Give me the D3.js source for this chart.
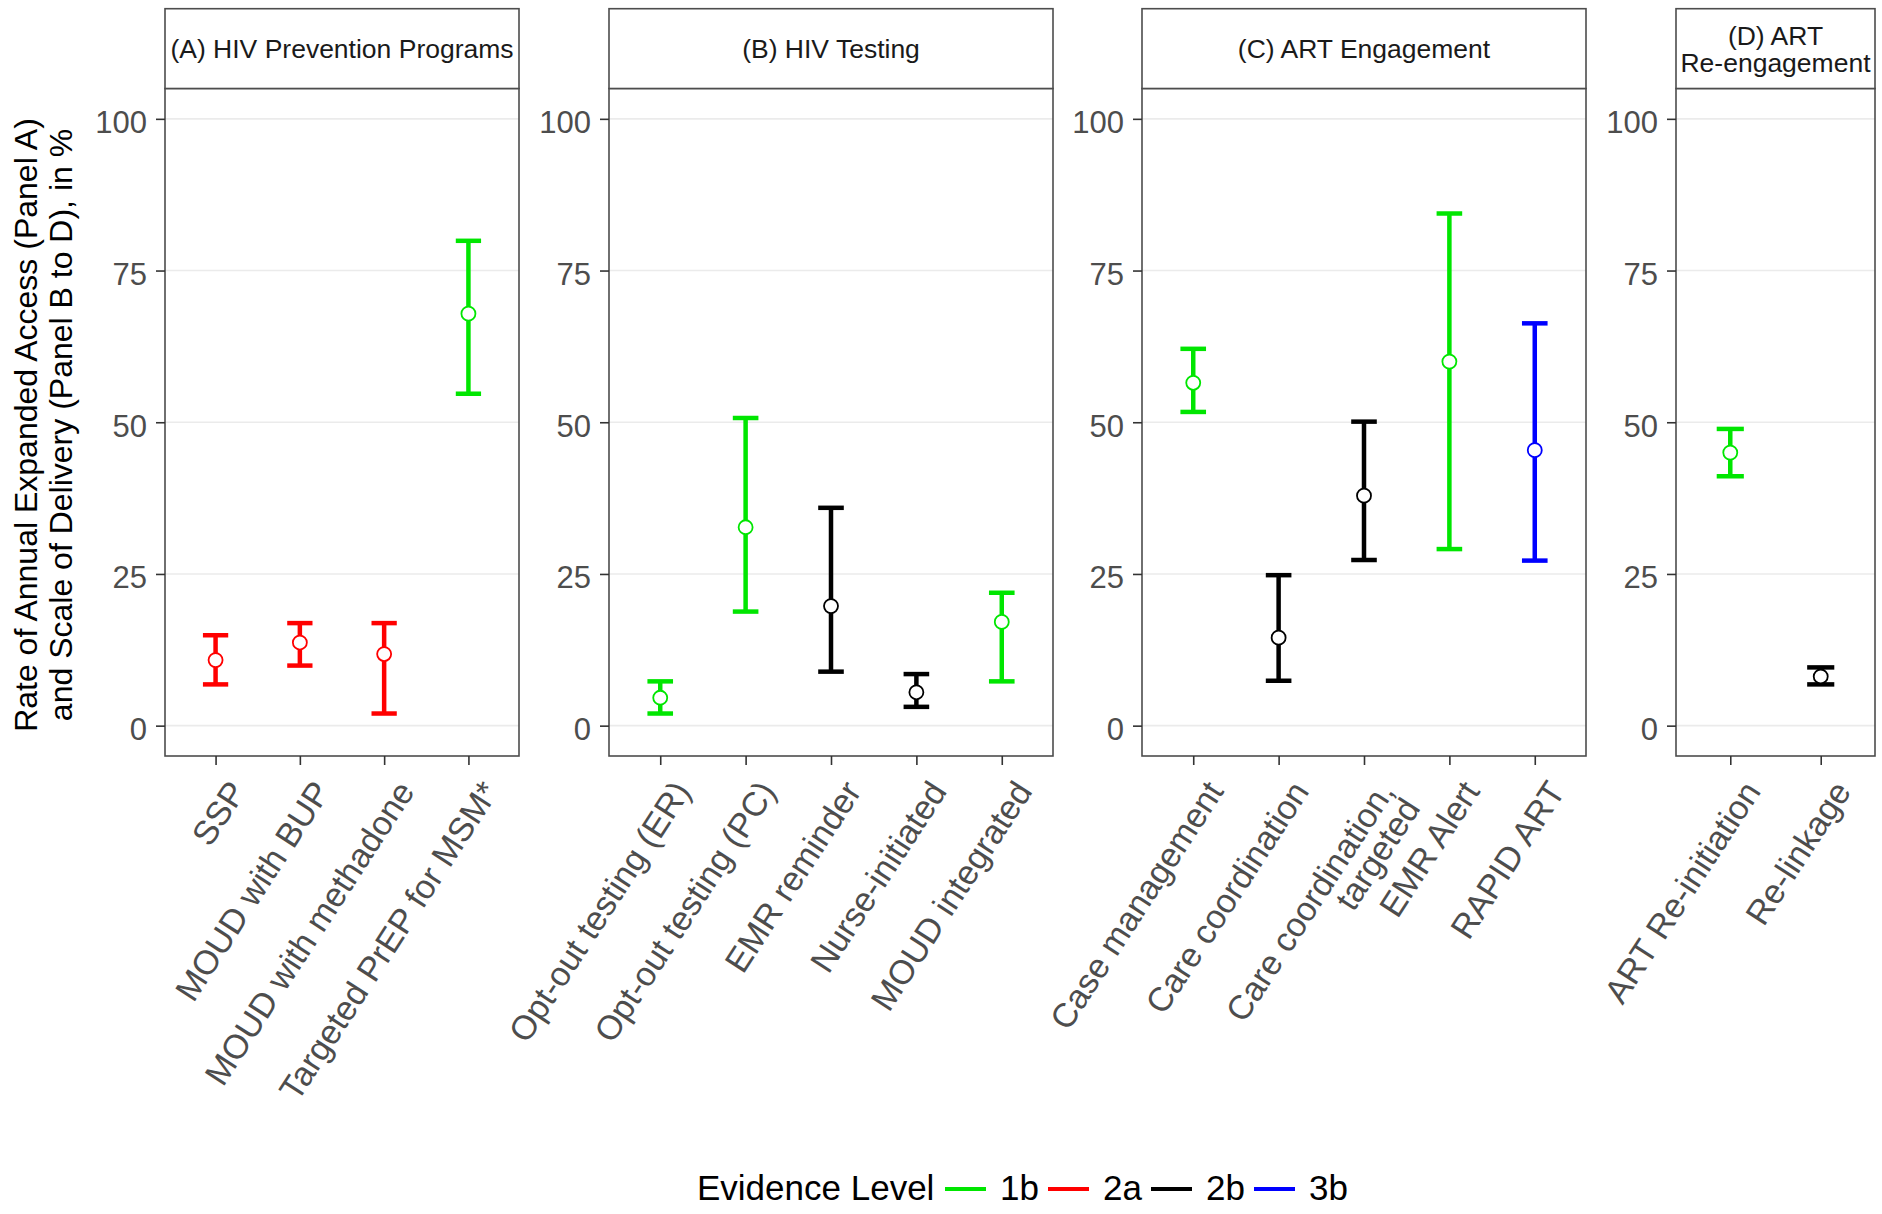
<!DOCTYPE html>
<html>
<head>
<meta charset="utf-8">
<script src="https://cdn.jsdelivr.net/npm/d3@7"></script>
<style>
  html, body { margin: 0; padding: 0; background: #ffffff; }
  svg { display: block; font-family: "Liberation Sans", Arial, Helvetica, sans-serif; }
</style>
</head>
<body>
<script>
// ---------------- DATA ----------------
const panelTitles = ["(A) HIV Prevention Programs", "(B) HIV Testing", "(C) ART Engagement", "(D) ART\nRe-engagement"];
const categories = [
  "SSP", "MOUD with BUP", "MOUD with methadone", "Targeted PrEP for MSM*",
  "Opt-out testing (ER)", "Opt-out testing (PC)", "EMR reminder", "Nurse-initiated", "MOUD integrated",
  "Case management", "Care coordination", "Care coordination,\ntargeted", "EMR Alert", "RAPID ART",
  "ART Re-initiation", "Re-linkage"
];
const categoryPanel = [0, 0, 0, 0, 1, 1, 1, 1, 1, 2, 2, 2, 2, 2, 3, 3];
const estimate = [10.8, 13.7, 11.8, 67.9, 4.6, 32.7, 19.7, 5.5, 17.1, 56.5, 14.5, 37.9, 60.0, 45.4, 45.0, 8.1];
const lower    = [6.8, 9.9, 2.0, 54.7, 2.0, 18.8, 8.9, 3.1, 7.3, 51.7, 7.4, 27.3, 29.1, 27.2, 41.1, 6.8];
const upper    = [14.9, 16.9, 16.9, 79.9, 7.3, 50.7, 35.9, 8.5, 21.9, 62.1, 24.8, 50.1, 84.4, 66.3, 48.9, 9.6];
const evidence = ["2a", "2a", "2a", "1b", "1b", "1b", "2b", "2b", "1b", "1b", "2b", "2b", "1b", "3b", "1b", "2b"];
const evidenceLevels = ["1b", "2a", "2b", "3b"];
const yTicks = [0, 25, 50, 75, 100];
const yTitleLines = ["Rate of Annual Expanded Access (Panel A)", "and Scale of Delivery (Panel B to D), in %"];
const legendTitle = "Evidence Level";

// ---------------- LAYOUT ----------------
const W = 1882, H = 1214;
const panelX = [[165, 519], [609, 1053], [1142, 1586], [1676, 1875]];
const stripTop = 8.7, panelTop = 88.5, panelBottom = 756;
const color = d3.scaleOrdinal().domain(evidenceLevels).range(["#00e600", "#ff0000", "#000000", "#0000ff"]);
const y = d3.scaleLinear().domain([-5, 105]).range([panelBottom, panelTop]);

const svg = d3.select("body").append("svg").attr("width", W).attr("height", H);
svg.append("rect").attr("width", W).attr("height", H).attr("fill", "#fff");

const rows = categories.map((c, i) => ({
  cat: c, panel: categoryPanel[i], est: estimate[i], lo: lower[i], hi: upper[i], ev: evidence[i]
}));

const xFont = 34, yFont = 31, xAngle = 57;

panelTitles.forEach((title, p) => {
  const [x0, x1] = panelX[p];
  const data = rows.filter(r => r.panel === p);
  const x = d3.scalePoint().domain(data.map(d => d.cat)).range([x0, x1]).padding(0.6);
  const step = x.step();
  const g = svg.append("g");

  // background + grid
  g.append("rect").attr("x", x0).attr("y", panelTop).attr("width", x1 - x0).attr("height", panelBottom - panelTop).attr("fill", "#fff");
  g.selectAll("line.grid").data(yTicks).join("line")
    .attr("class", "grid")
    .attr("x1", x0).attr("x2", x1)
    .attr("y1", d => y(d)).attr("y2", d => y(d))
    .attr("stroke", "#ebebeb").attr("stroke-width", 1.6);

  // error bars
  const eb = g.selectAll("g.eb").data(data).join("g").attr("class", "eb");
  eb.append("line")
    .attr("x1", d => x(d.cat)).attr("x2", d => x(d.cat))
    .attr("y1", d => y(d.lo)).attr("y2", d => y(d.hi))
    .attr("stroke", d => color(d.ev)).attr("stroke-width", 4.5);
  eb.append("line")
    .attr("x1", d => x(d.cat) - step * 0.15).attr("x2", d => x(d.cat) + step * 0.15)
    .attr("y1", d => y(d.hi)).attr("y2", d => y(d.hi))
    .attr("stroke", d => color(d.ev)).attr("stroke-width", 4.5);
  eb.append("line")
    .attr("x1", d => x(d.cat) - step * 0.15).attr("x2", d => x(d.cat) + step * 0.15)
    .attr("y1", d => y(d.lo)).attr("y2", d => y(d.lo))
    .attr("stroke", d => color(d.ev)).attr("stroke-width", 4.5);
  eb.append("circle")
    .attr("cx", d => x(d.cat)).attr("cy", d => y(d.est)).attr("r", 7)
    .attr("fill", "#fff").attr("stroke", d => color(d.ev)).attr("stroke-width", 1.8);

  // panel border
  g.append("rect").attr("x", x0).attr("y", panelTop).attr("width", x1 - x0).attr("height", panelBottom - panelTop)
    .attr("fill", "none").attr("stroke", "#4d4d4d").attr("stroke-width", 1.6);

  // strip
  g.append("rect").attr("x", x0).attr("y", stripTop).attr("width", x1 - x0).attr("height", panelTop - stripTop)
    .attr("fill", "#fff").attr("stroke", "#4d4d4d").attr("stroke-width", 1.6);
  const tLines = title.split("\n");
  const st = g.append("text").attr("text-anchor", "middle").attr("font-size", 26.5).attr("fill", "#1a1a1a");
  const lh = 27;
  const cy = (stripTop + panelTop) / 2;
  tLines.forEach((ln, i) => {
    st.append("tspan").attr("x", (x0 + x1) / 2)
      .attr("y", cy + (i - (tLines.length - 1) / 2) * lh + 0.36 * 26.5)
      .text(ln);
  });

  // y axis
  const ya = g.append("g").attr("transform", `translate(${x0},0)`)
    .call(d3.axisLeft(y).tickValues(yTicks).tickSize(9).tickPadding(9));
  ya.select(".domain").remove();
  ya.selectAll(".tick line").attr("stroke", "#333").attr("stroke-width", 1.6);
  ya.selectAll(".tick text").attr("font-size", yFont).attr("fill", "#4d4d4d").attr("dy", "0.45em")
    .attr("font-family", null);

  // x axis
  const xa = g.append("g").attr("transform", `translate(0,${panelBottom})`)
    .call(d3.axisBottom(x).tickSize(9).tickFormat(""));
  xa.select(".domain").remove();
  xa.selectAll(".tick line").attr("stroke", "#333").attr("stroke-width", 1.6);
  xa.selectAll(".tick text").remove();
  xa.selectAll(".tick").each(function(d) {
    const lines = d.split("\n");
    const t = d3.select(this).append("text")
      .attr("transform", `translate(10.5,22) rotate(${-xAngle})`)
      .attr("text-anchor", "end").attr("font-size", xFont).attr("fill", "#4d4d4d");
    lines.forEach((ln, i) => {
      t.append("tspan").attr("x", 0).attr("y", 0.716 * xFont + i * 31).text(ln);
    });
  });
});

// y title
const yt = svg.append("text").attr("transform", `translate(0,425) rotate(-90)`)
  .attr("text-anchor", "middle").attr("font-size", 32).attr("fill", "#000");
yTitleLines.forEach((ln, i) => {
  yt.append("tspan").attr("x", 0).attr("y", 36.5 + i * 35.5).text(ln);
});

// legend
const lg = svg.append("g");
const legY = 1187;
lg.append("text").attr("x", 697).attr("y", legY + 0.36 * 35).attr("font-size", 35).attr("fill", "#000").text(legendTitle);
const legX = d3.scalePoint().domain(evidenceLevels).range([945, 1254]);
const items = lg.selectAll("g.item").data(evidenceLevels).join("g").attr("class", "item")
  .attr("transform", d => `translate(${legX(d)},${legY})`);
items.append("line").attr("x1", 0).attr("x2", 41).attr("y1", 2).attr("y2", 2)
  .attr("stroke", d => color(d)).attr("stroke-width", 4);
items.append("text").attr("x", 55).attr("y", 0.36 * 35).attr("font-size", 35).attr("fill", "#000").text(d => d);
</script>
</body>
</html>
